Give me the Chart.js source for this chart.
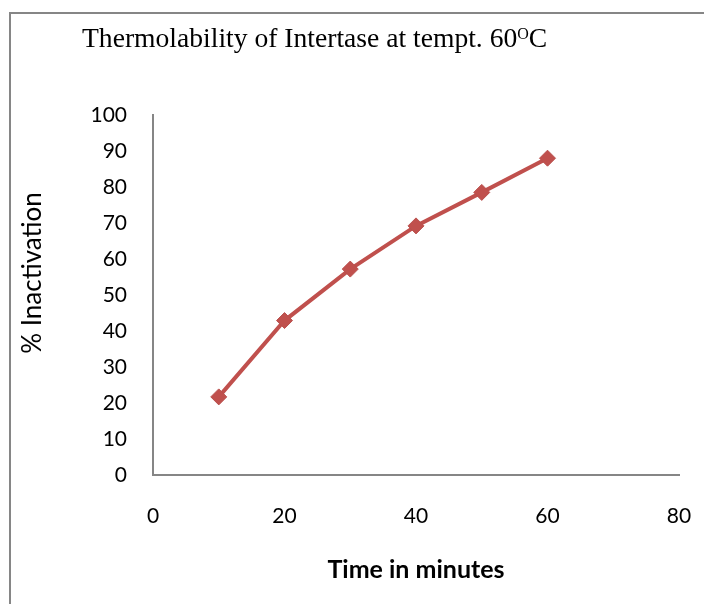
<!DOCTYPE html>
<html>
<head>
<meta charset="utf-8">
<script src="https://cdn.jsdelivr.net/npm/chart.js@4/dist/chart.umd.min.js"></script>
<style>
  html, body { margin: 0; padding: 0; background: #fff; }
  #wrap { width: 705px; height: 604px; position: relative; }
</style>
</head>
<body>
<div id="wrap"><canvas id="thermoChart"></canvas></div>
<script>
// data
let timeMinutes = [10, 20, 30, 40, 50, 60];
let inactivation = [21.7, 42.9, 57.2, 69.2, 78.5, 88.0];
let xTicks = [0, 20, 40, 60, 80];
let yTicks = [0, 10, 20, 30, 40, 50, 60, 70, 80, 90, 100];

let tickFont = { family: 'Lato', size: 21 };
let axisGray = '#868686';

// frame, title with superscript and the axis titles
let decorPlugin = {
    id: 'decor',
    beforeDraw(chart) {
        let ctx = chart.ctx;
        ctx.save();
        ctx.strokeStyle = axisGray;
        ctx.lineWidth = 2;
        ctx.beginPath();
        ctx.moveTo(10, 604);
        ctx.lineTo(10, 13);
        ctx.lineTo(704, 13);
        ctx.stroke();
        ctx.restore();
    },
    afterDraw(chart) {
        let ctx = chart.ctx;
        ctx.save();
        ctx.fillStyle = '#000';
        ctx.textBaseline = 'alphabetic';
        ctx.textAlign = 'left';
        // title
        ctx.font = '27.6px "Liberation Serif"';
        let x = 82, y = 47;
        let main = 'Thermolability of Intertase at tempt. 60';
        ctx.fillText(main, x, y);
        x += ctx.measureText(main).width;
        ctx.font = '16px "Liberation Serif"';
        ctx.fillText('O', x, y - 8);
        x += ctx.measureText('O').width;
        ctx.font = '27.6px "Liberation Serif"';
        ctx.fillText('C', x, y);

        // y axis title
        ctx.font = '26px Lato';
        ctx.textAlign = 'center';
        ctx.textBaseline = 'middle';
        ctx.translate(33, 273);
        ctx.rotate(-Math.PI / 2);
        ctx.fillText('% Inactivation', 0, 0);
        ctx.restore();

        // x axis title
        ctx.save();
        ctx.font = 'bold 25px Lato';
        ctx.textAlign = 'center';
        ctx.textBaseline = 'middle';
        ctx.fillStyle = '#000';
        ctx.fillText('Time in minutes', 416, 570);
        ctx.restore();
    }
};

let thermoCtx = document.getElementById('thermoChart');
let thermoConfig = {
    type: 'scatter',
    data: {
        datasets: [{
            label: '% Inactivation',
            data: timeMinutes.map((t, i) => ({ x: t, y: inactivation[i] })),
            showLine: true,
            borderColor: '#C0504D',
            backgroundColor: '#C0504D',
            borderWidth: 4,
            pointStyle: 'rectRot',
            pointRadius: 8,
            pointBorderWidth: 1,
            pointBackgroundColor: '#C0504D',
            pointBorderColor: '#B9504D',
        }]
    },
    options: {
        responsive: true,
        maintainAspectRatio: false,
        animation: false,
        layout: { padding: { left: 0, right: 26, top: 115, bottom: 0 } },
        plugins: {
            legend: { display: false },
            tooltip: { enabled: false },
            title: { display: false }
        },
        scales: {
            x: {
                type: 'linear',
                min: 0,
                max: 80,
                afterBuildTicks: (scale) => { scale.ticks = xTicks.map(v => ({ value: v })); },
                afterFit: (scale) => {
                    scale.height = 129;
                    scale.paddingLeft = 0;
                    scale.paddingRight = 0;
                },
                grid: { display: false, drawTicks: false },
                border: { display: true, color: axisGray, width: 2 },
                ticks: { font: tickFont, color: '#000', padding: 29, maxRotation: 0 }
            },
            y: {
                type: 'linear',
                min: 0,
                max: 100,
                afterBuildTicks: (scale) => { scale.ticks = yTicks.map(v => ({ value: v })); },
                afterFit: (scale) => {
                    scale.width = 153;
                    scale.paddingTop = 0;
                    scale.paddingBottom = 0;
                },
                grid: { display: false, drawTicks: false },
                border: { display: true, color: axisGray, width: 2 },
                ticks: { font: tickFont, color: '#000', padding: 26 }
            }
        }
    },
    plugins: [decorPlugin]
};
let thermoChart = new Chart(thermoCtx, thermoConfig);
</script>
</body>
</html>
